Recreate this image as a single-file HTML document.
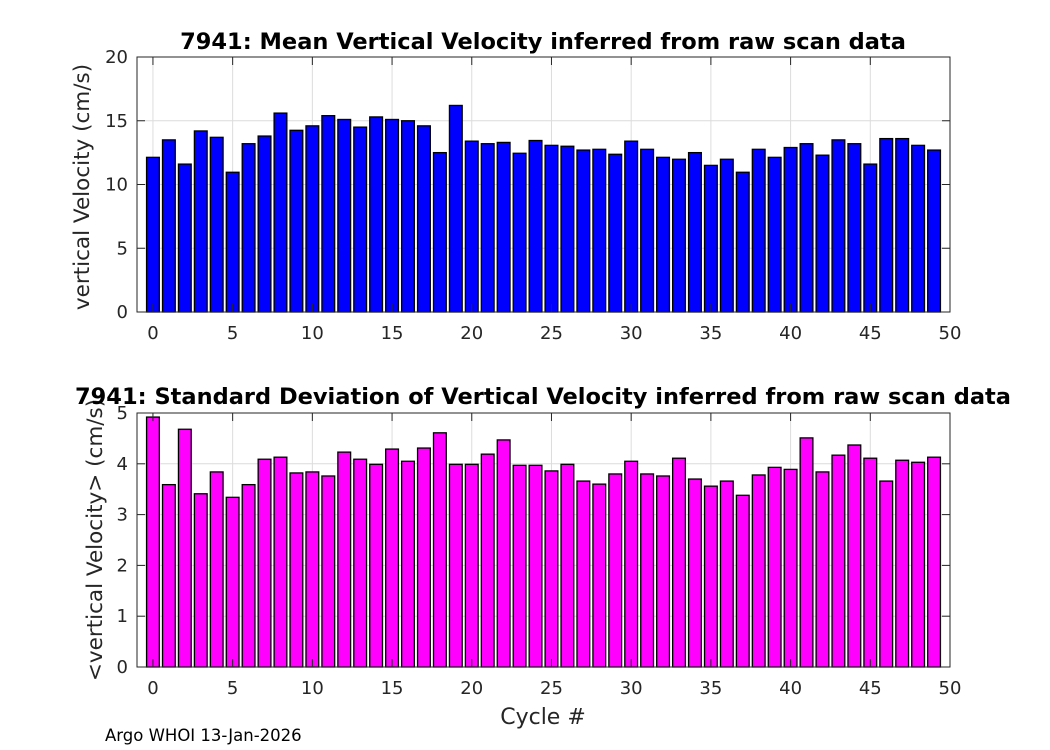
<!DOCTYPE html>
<html><head><meta charset="utf-8"><style>
body{margin:0;background:#fff;}
svg{display:block;font-family:"DejaVu Sans","Liberation Sans",sans-serif;}
</style></head><body>
<svg id="c" width="1050" height="750"></svg>
<script>
const cycles=[...Array(50).keys()];
const meanVel=[12.13,13.5,11.6,14.2,13.7,10.96,13.2,13.8,15.6,14.25,14.6,15.4,15.1,14.5,15.3,15.1,15.0,14.6,12.5,16.2,13.4,13.2,13.3,12.45,13.45,13.07,13.0,12.7,12.76,12.37,13.4,12.76,12.13,11.98,12.5,11.5,11.98,10.96,12.76,12.13,12.9,13.2,12.3,13.5,13.2,11.6,13.6,13.6,13.07,12.7];
const stdVel=[4.92,3.59,4.68,3.41,3.84,3.34,3.59,4.09,4.13,3.82,3.84,3.76,4.23,4.09,3.99,4.29,4.05,4.31,4.61,3.99,3.99,4.19,4.47,3.97,3.97,3.86,3.99,3.66,3.6,3.8,4.05,3.8,3.76,4.11,3.7,3.56,3.66,3.38,3.78,3.93,3.89,4.51,3.84,4.17,4.37,4.11,3.66,4.07,4.03,4.13];
const xTicks=[0,5,10,15,20,25,30,35,40,45,50];
const yTicksTop=[0,5,10,15,20];
const yTicksBot=[0,1,2,3,4,5];
const NS="http://www.w3.org/2000/svg";
const svg=document.getElementById('c');
function mk(t,a,txt){const e=document.createElementNS(NS,t);for(const k in a)e.setAttribute(k,a[k]);if(txt!=null)e.textContent=txt;svg.appendChild(e);return e;}
function panel(o){
 const L=137,R=950,T=o.T,B=o.B;
 const x=v=>L+(v+1)/51*(R-L);
 const y=v=>B-(v-o.ymin)/(o.ymax-o.ymin)*(B-T);
 let bg=mk('rect',{x:L,y:T,width:R-L,height:B-T,fill:'#fff'});
 
 
 xTicks.forEach(t=>{let g=mk('line',{x1:x(t),x2:x(t),y1:T,y2:B,stroke:'#dcdcdc','stroke-width':1});
  });
 o.yt.forEach(t=>{let g=mk('line',{x1:L,x2:R,y1:y(t),y2:y(t),stroke:'#dcdcdc','stroke-width':1});
  });
 o.vals.forEach((v,i)=>{const c=cycles[i];
  let b=mk('rect',{x:x(c-0.4),y:y(v),width:x(c+0.4)-x(c-0.4),height:y(o.ymin)-y(v),fill:o.color,stroke:'#000','stroke-width':1.3});
  
  });
 let fr=mk('rect',{x:L,y:T,width:R-L,height:B-T,fill:'none',stroke:'#262626','stroke-width':1});
 
 xTicks.forEach(t=>{
  mk('line',{x1:x(t),x2:x(t),y1:B,y2:B-8,stroke:'#262626'});
  mk('line',{x1:x(t),x2:x(t),y1:T,y2:T+8,stroke:'#262626'});
  let l=mk('text',{x:x(t),y:B+27,'text-anchor':'middle','font-size':18,fill:'#262626'},t);
  });
 o.yt.forEach(t=>{
  mk('line',{x1:L,x2:L+8,y1:y(t),y2:y(t),stroke:'#262626'});
  mk('line',{x1:R,x2:R-8,y1:y(t),y2:y(t),stroke:'#262626'});
  let l=mk('text',{x:L-9,y:y(t)+6,'text-anchor':'end','font-size':18,fill:'#262626'},t);
  });
 let yl=mk('text',{x:0,y:0,'text-anchor':'middle','font-size':21.5,fill:'#262626',transform:`translate(${o.ylx},${o.lyc}) rotate(-90)`},o.ylabel);
 
 let ti=mk('text',{x:o.tx,y:o.ty,'text-anchor':'middle','font-size':22.5,'font-weight':'bold',fill:'#000'},o.title);
 
}
panel({id:'mean',T:57,B:312,ymin:0,ymax:20,yt:yTicksTop,vals:meanVel,color:'#0000ff',title:'7941: Mean Vertical Velocity inferred from raw scan data',tx:543,ty:49,ylabel:'vertical Velocity (cm/s)',ylx:89,lyc:187});
panel({id:'std',T:413,B:667,ymin:0,ymax:5,yt:yTicksBot,vals:stdVel,color:'#ff00ff',title:'7941: Standard Deviation of Vertical Velocity inferred from raw scan data',tx:543,ty:404,ylabel:'<vertical Velocity> (cm/s)',ylx:102,lyc:540});
let xl=mk('text',{x:543,y:724,'text-anchor':'middle','font-size':22,fill:'#262626'},'Cycle #');

let ft=mk('text',{x:105,y:741,'font-size':16.5,fill:'#000'},'Argo WHOI 13-Jan-2026');

</script>
</body></html>
